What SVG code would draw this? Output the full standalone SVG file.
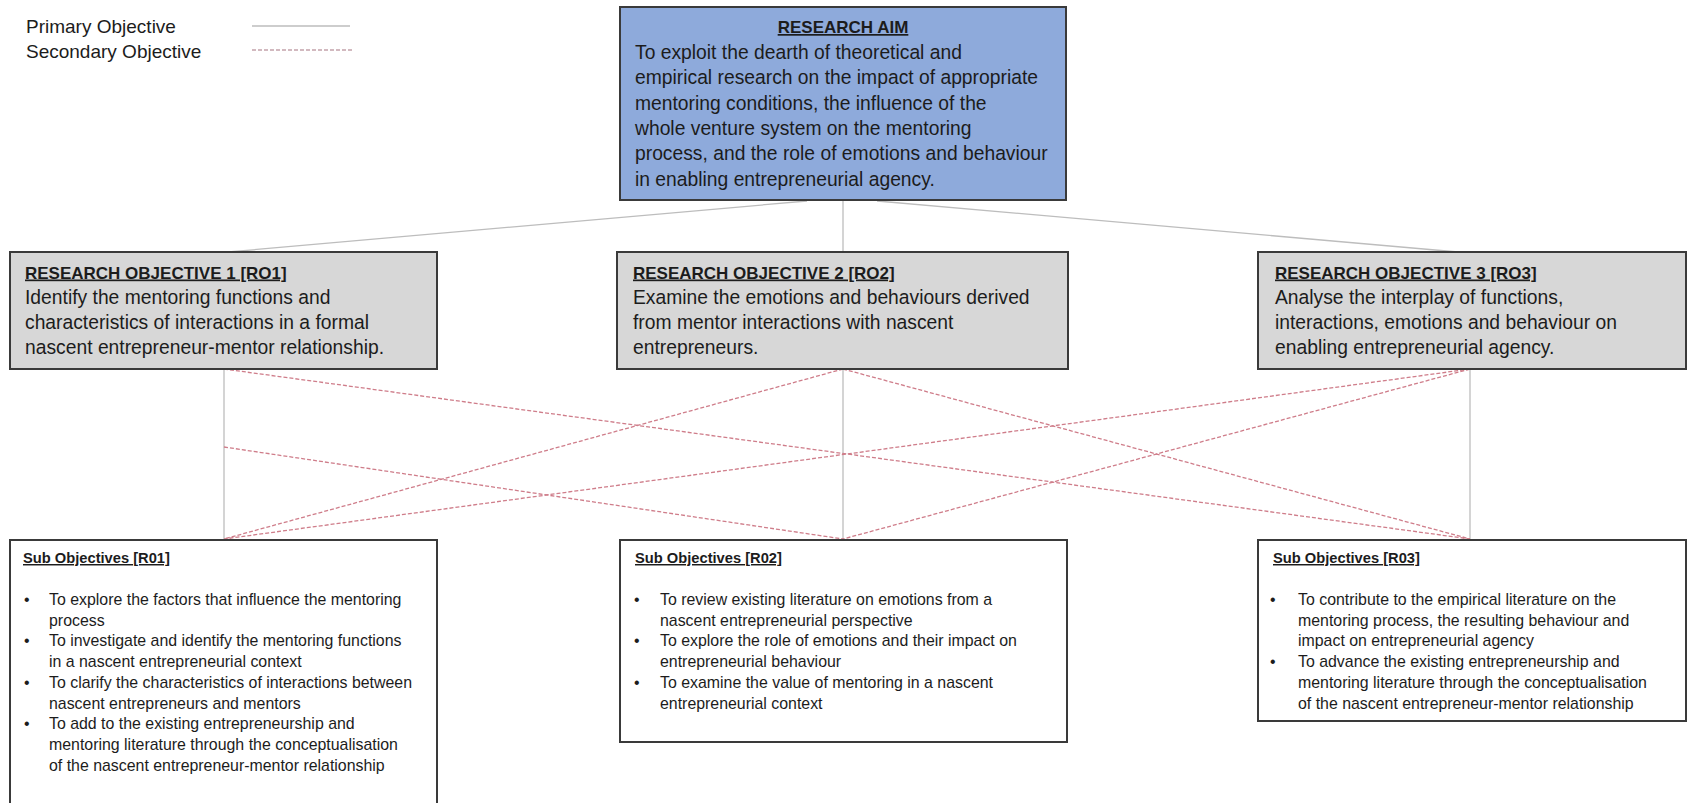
<svg xmlns="http://www.w3.org/2000/svg" width="1695" height="803" viewBox="0 0 1695 803">
<style>
text{font-family:"Liberation Sans",Arial,sans-serif;fill:#1c1c1c}
.t{font-weight:bold;font-size:17px;text-decoration:underline}
.b{font-size:19.3px}
.st{font-weight:bold;font-size:14.7px;text-decoration:underline}
.s{font-size:15.9px}
.leg{font-size:19px}
.box{stroke:#3a3a3a;stroke-width:2}
.aim{fill:#8eaadb}
.ro{fill:#d7d7d7}
.so{fill:#ffffff}
.p{stroke:#bdbdbd;stroke-width:1.3;fill:none}
.sec{stroke:#cf7d8a;stroke-width:1.3;stroke-dasharray:4 2;fill:none}
</style>
<rect width="1695" height="803" fill="#ffffff"/>
<g id="legend">
<text class="leg" x="26" y="33">Primary Objective</text>
<text class="leg" x="26" y="58">Secondary Objective</text>
<line class="p" x1="252" y1="26" x2="350" y2="26"/>
<line x1="252" y1="50" x2="352" y2="50" stroke="#c4a3aa" stroke-width="1.3" stroke-dasharray="4 2"/>
</g>
<g id="connectors">
<line class="p" x1="807" y1="201" x2="228" y2="252"/>
<line class="p" x1="843" y1="200" x2="843" y2="252"/>
<line class="p" x1="877" y1="201" x2="1458" y2="252"/>
<line class="p" x1="224" y1="369" x2="224" y2="539"/>
<line class="p" x1="843" y1="369" x2="843" y2="539"/>
<line class="p" x1="1470" y1="369" x2="1470" y2="539"/>
<line class="sec" x1="224" y1="369" x2="1470" y2="539"/>
<line class="sec" x1="224" y1="447" x2="843" y2="539"/>
<line class="sec" x1="843" y1="369" x2="224" y2="539"/>
<line class="sec" x1="843" y1="369" x2="1470" y2="539"/>
<line class="sec" x1="1470" y1="369" x2="224" y2="539"/>
<line class="sec" x1="1470" y1="369" x2="843" y2="539"/>
</g>
<g id="aim">
<rect class="box aim" x="620" y="7" width="446" height="193"/>
<text class="t" x="843" y="33" text-anchor="middle">RESEARCH AIM</text>
<text class="b" x="635" y="59">To exploit the dearth of theoretical and</text>
<text class="b" x="635" y="84.3">empirical research on the impact of appropriate</text>
<text class="b" x="635" y="109.6">mentoring conditions, the influence of the</text>
<text class="b" x="635" y="134.9">whole venture system on the mentoring</text>
<text class="b" x="635" y="160.2">process, and the role of emotions and behaviour</text>
<text class="b" x="635" y="185.5">in enabling entrepreneurial agency.</text>
</g>
<g id="ro1">
<rect class="box ro" x="10" y="252" width="427" height="117"/>
<text class="t" x="25" y="278.5">RESEARCH OBJECTIVE 1 [RO1]</text>
<text class="b" x="25" y="303.5">Identify the mentoring functions and</text>
<text class="b" x="25" y="328.7">characteristics of interactions in a formal</text>
<text class="b" x="25" y="354">nascent entrepreneur-mentor relationship.</text>
</g>
<g id="ro2">
<rect class="box ro" x="617" y="252" width="451" height="117"/>
<text class="t" x="633" y="278.5">RESEARCH OBJECTIVE 2 [RO2]</text>
<text class="b" x="633" y="303.5">Examine the emotions and behaviours derived</text>
<text class="b" x="633" y="328.7">from mentor interactions with nascent</text>
<text class="b" x="633" y="354">entrepreneurs.</text>
</g>
<g id="ro3">
<rect class="box ro" x="1258" y="252" width="428" height="117"/>
<text class="t" x="1275" y="278.5">RESEARCH OBJECTIVE 3 [RO3]</text>
<text class="b" x="1275" y="303.5">Analyse the interplay of functions,</text>
<text class="b" x="1275" y="328.7">interactions, emotions and behaviour on</text>
<text class="b" x="1275" y="354">enabling entrepreneurial agency.</text>
</g>
<g id="so1">
<rect class="box so" x="10" y="540" width="427" height="275"/>
<text class="st" x="23" y="563">Sub Objectives [R01]</text>
<text class="s" x="24" y="605">•</text>
<text class="s" x="49" y="605">To explore the factors that influence the mentoring</text>
<text class="s" x="49" y="625.7">process</text>
<text class="s" x="24" y="646.4">•</text>
<text class="s" x="49" y="646.4">To investigate and identify the mentoring functions</text>
<text class="s" x="49" y="667.1">in a nascent entrepreneurial context</text>
<text class="s" x="24" y="687.8">•</text>
<text class="s" x="49" y="687.8">To clarify the characteristics of interactions between</text>
<text class="s" x="49" y="708.5">nascent entrepreneurs and mentors</text>
<text class="s" x="24" y="729.2">•</text>
<text class="s" x="49" y="729.2">To add to the existing entrepreneurship and</text>
<text class="s" x="49" y="749.9">mentoring literature through the conceptualisation</text>
<text class="s" x="49" y="770.6">of the nascent entrepreneur-mentor relationship</text>
</g>
<g id="so2">
<rect class="box so" x="620" y="540" width="447" height="202"/>
<text class="st" x="635" y="563">Sub Objectives [R02]</text>
<text class="s" x="634" y="605">•</text>
<text class="s" x="660" y="605">To review existing literature on emotions from a</text>
<text class="s" x="660" y="625.7">nascent entrepreneurial perspective</text>
<text class="s" x="634" y="646.4">•</text>
<text class="s" x="660" y="646.4">To explore the role of emotions and their impact on</text>
<text class="s" x="660" y="667.1">entrepreneurial behaviour</text>
<text class="s" x="634" y="687.8">•</text>
<text class="s" x="660" y="687.8">To examine the value of mentoring in a nascent</text>
<text class="s" x="660" y="708.5">entrepreneurial context</text>
</g>
<g id="so3">
<rect class="box so" x="1258" y="540" width="428" height="181"/>
<text class="st" x="1273" y="563">Sub Objectives [R03]</text>
<text class="s" x="1270" y="605">•</text>
<text class="s" x="1298" y="605">To contribute to the empirical literature on the</text>
<text class="s" x="1298" y="625.7">mentoring process, the resulting behaviour and</text>
<text class="s" x="1298" y="646.4">impact on entrepreneurial agency</text>
<text class="s" x="1270" y="667.1">•</text>
<text class="s" x="1298" y="667.1">To advance the existing entrepreneurship and</text>
<text class="s" x="1298" y="687.8">mentoring literature through the conceptualisation</text>
<text class="s" x="1298" y="708.5">of the nascent entrepreneur-mentor relationship</text>
</g>
</svg>
